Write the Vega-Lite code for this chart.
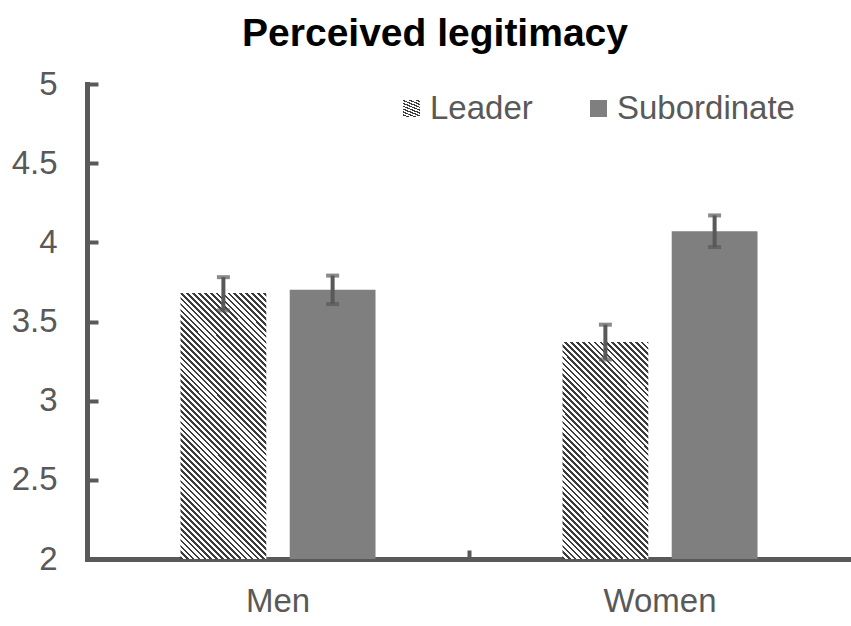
{
  "$schema": "https://vega.github.io/schema/vega-lite/v6.json",
  "width": 764,
  "height": 475,
  "autosize": {"type": "none"},
  "padding": {"left": 87, "top": 84, "right": 0, "bottom": 67},
  "background": "white",
  "config": {"view": {"stroke": null}},
  "title": {
    "text": "Perceived legitimacy",
    "font": "Liberation Sans",
    "fontSize": 39,
    "fontWeight": "bold",
    "color": "#000000",
    "anchor": "middle",
    "dx": -34,
    "offset": 14
  },
  "data": {
    "values": [
      {"Gender": "Men", "Role": "Leader", "Mean": 3.68, "Low": 3.57, "High": 3.78},
      {"Gender": "Men", "Role": "Subordinate", "Mean": 3.70, "Low": 3.61, "High": 3.79},
      {"Gender": "Women", "Role": "Leader", "Mean": 3.37, "Low": 3.26, "High": 3.48},
      {"Gender": "Women", "Role": "Subordinate", "Mean": 4.07, "Low": 3.97, "High": 4.17}
    ]
  },
  "encoding": {
    "x": {
      "field": "Gender",
      "type": "nominal",
      "scale": {"paddingInner": 0, "paddingOuter": 0},
      "axis": {
        "title": null,
        "labelAngle": 0,
        "labelFont": "Liberation Sans",
        "labelFontSize": 33,
        "labelColor": "#595959",
        "labelPadding": 35,
        "domainColor": "#595959",
        "domainWidth": 5,
        "domainCap": "square",
        "tickColor": "#595959",
        "tickWidth": 4,
        "tickSize": -9,
        "bandPosition": 0
      }
    },
    "xOffset": {
      "field": "Role",
      "type": "nominal",
      "scale": {"domain": ["Leader", "Subordinate"], "paddingInner": 0.2146, "paddingOuter": 0.856}
    }
  },
  "layer": [
    {
      "transform": [{"filter": "datum.Gender === 'Men' && datum.Role === 'Leader'"}],
      "mark": {
        "type": "bar",
        "fill": {
          "gradient": "linear",
          "x1": 0, "y1": 1, "x2": 0.6492, "y2": -1.0081,
          "stops": [
            {"offset":0,"color":"#3c3c3c"},{"offset":0.0045,"color":"#3c3c3c"},{"offset":0.0045,"color":"#fff"},{"offset":0.01,"color":"#fff"},
            {"offset":0.01,"color":"#3c3c3c"},{"offset":0.0145,"color":"#3c3c3c"},{"offset":0.0145,"color":"#fff"},{"offset":0.02,"color":"#fff"},
            {"offset":0.02,"color":"#3c3c3c"},{"offset":0.0245,"color":"#3c3c3c"},{"offset":0.0245,"color":"#fff"},{"offset":0.03,"color":"#fff"},
            {"offset":0.03,"color":"#3c3c3c"},{"offset":0.0345,"color":"#3c3c3c"},{"offset":0.0345,"color":"#fff"},{"offset":0.04,"color":"#fff"},
            {"offset":0.04,"color":"#3c3c3c"},{"offset":0.0445,"color":"#3c3c3c"},{"offset":0.0445,"color":"#fff"},{"offset":0.05,"color":"#fff"},
            {"offset":0.05,"color":"#3c3c3c"},{"offset":0.0545,"color":"#3c3c3c"},{"offset":0.0545,"color":"#fff"},{"offset":0.06,"color":"#fff"},
            {"offset":0.06,"color":"#3c3c3c"},{"offset":0.0645,"color":"#3c3c3c"},{"offset":0.0645,"color":"#fff"},{"offset":0.07,"color":"#fff"},
            {"offset":0.07,"color":"#3c3c3c"},{"offset":0.0745,"color":"#3c3c3c"},{"offset":0.0745,"color":"#fff"},{"offset":0.08,"color":"#fff"},
            {"offset":0.08,"color":"#3c3c3c"},{"offset":0.0845,"color":"#3c3c3c"},{"offset":0.0845,"color":"#fff"},{"offset":0.09,"color":"#fff"},
            {"offset":0.09,"color":"#3c3c3c"},{"offset":0.0945,"color":"#3c3c3c"},{"offset":0.0945,"color":"#fff"},{"offset":0.10,"color":"#fff"},
            {"offset":0.10,"color":"#3c3c3c"},{"offset":0.1045,"color":"#3c3c3c"},{"offset":0.1045,"color":"#fff"},{"offset":0.11,"color":"#fff"},
            {"offset":0.11,"color":"#3c3c3c"},{"offset":0.1145,"color":"#3c3c3c"},{"offset":0.1145,"color":"#fff"},{"offset":0.12,"color":"#fff"},
            {"offset":0.12,"color":"#3c3c3c"},{"offset":0.1245,"color":"#3c3c3c"},{"offset":0.1245,"color":"#fff"},{"offset":0.13,"color":"#fff"},
            {"offset":0.13,"color":"#3c3c3c"},{"offset":0.1345,"color":"#3c3c3c"},{"offset":0.1345,"color":"#fff"},{"offset":0.14,"color":"#fff"},
            {"offset":0.14,"color":"#3c3c3c"},{"offset":0.1445,"color":"#3c3c3c"},{"offset":0.1445,"color":"#fff"},{"offset":0.15,"color":"#fff"},
            {"offset":0.15,"color":"#3c3c3c"},{"offset":0.1545,"color":"#3c3c3c"},{"offset":0.1545,"color":"#fff"},{"offset":0.16,"color":"#fff"},
            {"offset":0.16,"color":"#3c3c3c"},{"offset":0.1645,"color":"#3c3c3c"},{"offset":0.1645,"color":"#fff"},{"offset":0.17,"color":"#fff"},
            {"offset":0.17,"color":"#3c3c3c"},{"offset":0.1745,"color":"#3c3c3c"},{"offset":0.1745,"color":"#fff"},{"offset":0.18,"color":"#fff"},
            {"offset":0.18,"color":"#3c3c3c"},{"offset":0.1845,"color":"#3c3c3c"},{"offset":0.1845,"color":"#fff"},{"offset":0.19,"color":"#fff"},
            {"offset":0.19,"color":"#3c3c3c"},{"offset":0.1945,"color":"#3c3c3c"},{"offset":0.1945,"color":"#fff"},{"offset":0.20,"color":"#fff"},
            {"offset":0.20,"color":"#3c3c3c"},{"offset":0.2045,"color":"#3c3c3c"},{"offset":0.2045,"color":"#fff"},{"offset":0.21,"color":"#fff"},
            {"offset":0.21,"color":"#3c3c3c"},{"offset":0.2145,"color":"#3c3c3c"},{"offset":0.2145,"color":"#fff"},{"offset":0.22,"color":"#fff"},
            {"offset":0.22,"color":"#3c3c3c"},{"offset":0.2245,"color":"#3c3c3c"},{"offset":0.2245,"color":"#fff"},{"offset":0.23,"color":"#fff"},
            {"offset":0.23,"color":"#3c3c3c"},{"offset":0.2345,"color":"#3c3c3c"},{"offset":0.2345,"color":"#fff"},{"offset":0.24,"color":"#fff"},
            {"offset":0.24,"color":"#3c3c3c"},{"offset":0.2445,"color":"#3c3c3c"},{"offset":0.2445,"color":"#fff"},{"offset":0.25,"color":"#fff"},
            {"offset":0.25,"color":"#3c3c3c"},{"offset":0.2545,"color":"#3c3c3c"},{"offset":0.2545,"color":"#fff"},{"offset":0.26,"color":"#fff"},
            {"offset":0.26,"color":"#3c3c3c"},{"offset":0.2645,"color":"#3c3c3c"},{"offset":0.2645,"color":"#fff"},{"offset":0.27,"color":"#fff"},
            {"offset":0.27,"color":"#3c3c3c"},{"offset":0.2745,"color":"#3c3c3c"},{"offset":0.2745,"color":"#fff"},{"offset":0.28,"color":"#fff"},
            {"offset":0.28,"color":"#3c3c3c"},{"offset":0.2845,"color":"#3c3c3c"},{"offset":0.2845,"color":"#fff"},{"offset":0.29,"color":"#fff"},
            {"offset":0.29,"color":"#3c3c3c"},{"offset":0.2945,"color":"#3c3c3c"},{"offset":0.2945,"color":"#fff"},{"offset":0.30,"color":"#fff"},
            {"offset":0.30,"color":"#3c3c3c"},{"offset":0.3045,"color":"#3c3c3c"},{"offset":0.3045,"color":"#fff"},{"offset":0.31,"color":"#fff"},
            {"offset":0.31,"color":"#3c3c3c"},{"offset":0.3145,"color":"#3c3c3c"},{"offset":0.3145,"color":"#fff"},{"offset":0.32,"color":"#fff"},
            {"offset":0.32,"color":"#3c3c3c"},{"offset":0.3245,"color":"#3c3c3c"},{"offset":0.3245,"color":"#fff"},{"offset":0.33,"color":"#fff"},
            {"offset":0.33,"color":"#3c3c3c"},{"offset":0.3345,"color":"#3c3c3c"},{"offset":0.3345,"color":"#fff"},{"offset":0.34,"color":"#fff"},
            {"offset":0.34,"color":"#3c3c3c"},{"offset":0.3445,"color":"#3c3c3c"},{"offset":0.3445,"color":"#fff"},{"offset":0.35,"color":"#fff"},
            {"offset":0.35,"color":"#3c3c3c"},{"offset":0.3545,"color":"#3c3c3c"},{"offset":0.3545,"color":"#fff"},{"offset":0.36,"color":"#fff"},
            {"offset":0.36,"color":"#3c3c3c"},{"offset":0.3645,"color":"#3c3c3c"},{"offset":0.3645,"color":"#fff"},{"offset":0.37,"color":"#fff"},
            {"offset":0.37,"color":"#3c3c3c"},{"offset":0.3745,"color":"#3c3c3c"},{"offset":0.3745,"color":"#fff"},{"offset":0.38,"color":"#fff"},
            {"offset":0.38,"color":"#3c3c3c"},{"offset":0.3845,"color":"#3c3c3c"},{"offset":0.3845,"color":"#fff"},{"offset":0.39,"color":"#fff"},
            {"offset":0.39,"color":"#3c3c3c"},{"offset":0.3945,"color":"#3c3c3c"},{"offset":0.3945,"color":"#fff"},{"offset":0.40,"color":"#fff"},
            {"offset":0.40,"color":"#3c3c3c"},{"offset":0.4045,"color":"#3c3c3c"},{"offset":0.4045,"color":"#fff"},{"offset":0.41,"color":"#fff"},
            {"offset":0.41,"color":"#3c3c3c"},{"offset":0.4145,"color":"#3c3c3c"},{"offset":0.4145,"color":"#fff"},{"offset":0.42,"color":"#fff"},
            {"offset":0.42,"color":"#3c3c3c"},{"offset":0.4245,"color":"#3c3c3c"},{"offset":0.4245,"color":"#fff"},{"offset":0.43,"color":"#fff"},
            {"offset":0.43,"color":"#3c3c3c"},{"offset":0.4345,"color":"#3c3c3c"},{"offset":0.4345,"color":"#fff"},{"offset":0.44,"color":"#fff"},
            {"offset":0.44,"color":"#3c3c3c"},{"offset":0.4445,"color":"#3c3c3c"},{"offset":0.4445,"color":"#fff"},{"offset":0.45,"color":"#fff"},
            {"offset":0.45,"color":"#3c3c3c"},{"offset":0.4545,"color":"#3c3c3c"},{"offset":0.4545,"color":"#fff"},{"offset":0.46,"color":"#fff"},
            {"offset":0.46,"color":"#3c3c3c"},{"offset":0.4645,"color":"#3c3c3c"},{"offset":0.4645,"color":"#fff"},{"offset":0.47,"color":"#fff"},
            {"offset":0.47,"color":"#3c3c3c"},{"offset":0.4745,"color":"#3c3c3c"},{"offset":0.4745,"color":"#fff"},{"offset":0.48,"color":"#fff"},
            {"offset":0.48,"color":"#3c3c3c"},{"offset":0.4845,"color":"#3c3c3c"},{"offset":0.4845,"color":"#fff"},{"offset":0.49,"color":"#fff"},
            {"offset":0.49,"color":"#3c3c3c"},{"offset":0.4945,"color":"#3c3c3c"},{"offset":0.4945,"color":"#fff"},{"offset":0.50,"color":"#fff"},
            {"offset":0.50,"color":"#3c3c3c"},{"offset":0.5045,"color":"#3c3c3c"},{"offset":0.5045,"color":"#fff"},{"offset":0.51,"color":"#fff"},
            {"offset":0.51,"color":"#3c3c3c"},{"offset":0.5145,"color":"#3c3c3c"},{"offset":0.5145,"color":"#fff"},{"offset":0.52,"color":"#fff"},
            {"offset":0.52,"color":"#3c3c3c"},{"offset":0.5245,"color":"#3c3c3c"},{"offset":0.5245,"color":"#fff"},{"offset":0.53,"color":"#fff"},
            {"offset":0.53,"color":"#3c3c3c"},{"offset":0.5345,"color":"#3c3c3c"},{"offset":0.5345,"color":"#fff"},{"offset":0.54,"color":"#fff"},
            {"offset":0.54,"color":"#3c3c3c"},{"offset":0.5445,"color":"#3c3c3c"},{"offset":0.5445,"color":"#fff"},{"offset":0.55,"color":"#fff"},
            {"offset":0.55,"color":"#3c3c3c"},{"offset":0.5545,"color":"#3c3c3c"},{"offset":0.5545,"color":"#fff"},{"offset":0.56,"color":"#fff"},
            {"offset":0.56,"color":"#3c3c3c"},{"offset":0.5645,"color":"#3c3c3c"},{"offset":0.5645,"color":"#fff"},{"offset":0.57,"color":"#fff"},
            {"offset":0.57,"color":"#3c3c3c"},{"offset":0.5745,"color":"#3c3c3c"},{"offset":0.5745,"color":"#fff"},{"offset":0.58,"color":"#fff"},
            {"offset":0.58,"color":"#3c3c3c"},{"offset":0.5845,"color":"#3c3c3c"},{"offset":0.5845,"color":"#fff"},{"offset":0.59,"color":"#fff"},
            {"offset":0.59,"color":"#3c3c3c"},{"offset":0.5945,"color":"#3c3c3c"},{"offset":0.5945,"color":"#fff"},{"offset":0.60,"color":"#fff"}
          ]
        }
      },
      "encoding": {
        "y": {"field": "Mean", "type": "quantitative", "scale": {"domain": [2, 5], "zero": false, "nice": false}},
        "y2": {"datum": 2},
        "opacity": {
          "field": "Role",
          "type": "nominal",
          "scale": {"domain": ["Leader"], "range": [1]},
          "legend": {
            "title": null,
            "orient": "none",
            "legendX": 308,
            "legendY": 8,
            "symbolType": "square",
            "symbolSize": 289,
            "symbolStrokeWidth": 0,
            "labelFont": "Liberation Sans",
            "labelFontSize": 33,
            "labelColor": "#595959",
            "labelOffset": 2,
            "labelLimit": 400,
            "padding": 0,
            "encode": {
              "symbols": {
                "fill": {
                  "value": {
                    "gradient": "linear",
                    "x1": 0, "y1": 1, "x2": 17.35, "y2": -16.35,
                    "stops": [
                      {"offset":0,"color":"#3c3c3c"},{"offset":0.0045,"color":"#3c3c3c"},{"offset":0.0045,"color":"#fff"},{"offset":0.01,"color":"#fff"},
                      {"offset":0.01,"color":"#3c3c3c"},{"offset":0.0145,"color":"#3c3c3c"},{"offset":0.0145,"color":"#fff"},{"offset":0.02,"color":"#fff"},
                      {"offset":0.02,"color":"#3c3c3c"},{"offset":0.0245,"color":"#3c3c3c"},{"offset":0.0245,"color":"#fff"},{"offset":0.03,"color":"#fff"},
                      {"offset":0.03,"color":"#3c3c3c"},{"offset":0.0345,"color":"#3c3c3c"},{"offset":0.0345,"color":"#fff"},{"offset":0.04,"color":"#fff"},
                      {"offset":0.04,"color":"#3c3c3c"},{"offset":0.0445,"color":"#3c3c3c"},{"offset":0.0445,"color":"#fff"},{"offset":0.05,"color":"#fff"},
                      {"offset":0.05,"color":"#3c3c3c"},{"offset":0.0545,"color":"#3c3c3c"},{"offset":0.0545,"color":"#fff"},{"offset":0.06,"color":"#fff"}
                    ]
                  }
                },
                "opacity": {"value": 1}
              }
            }
          }
        }
      }
    },
    {
      "transform": [{"filter": "datum.Gender === 'Women' && datum.Role === 'Leader'"}],
      "mark": {
        "type": "bar",
        "fill": {
          "gradient": "linear",
          "x1": 0, "y1": 1, "x2": 0.932, "y2": -1.3506,
          "stops": [
            {"offset":0,"color":"#3c3c3c"},{"offset":0.0045,"color":"#3c3c3c"},{"offset":0.0045,"color":"#fff"},{"offset":0.01,"color":"#fff"},
            {"offset":0.01,"color":"#3c3c3c"},{"offset":0.0145,"color":"#3c3c3c"},{"offset":0.0145,"color":"#fff"},{"offset":0.02,"color":"#fff"},
            {"offset":0.02,"color":"#3c3c3c"},{"offset":0.0245,"color":"#3c3c3c"},{"offset":0.0245,"color":"#fff"},{"offset":0.03,"color":"#fff"},
            {"offset":0.03,"color":"#3c3c3c"},{"offset":0.0345,"color":"#3c3c3c"},{"offset":0.0345,"color":"#fff"},{"offset":0.04,"color":"#fff"},
            {"offset":0.04,"color":"#3c3c3c"},{"offset":0.0445,"color":"#3c3c3c"},{"offset":0.0445,"color":"#fff"},{"offset":0.05,"color":"#fff"},
            {"offset":0.05,"color":"#3c3c3c"},{"offset":0.0545,"color":"#3c3c3c"},{"offset":0.0545,"color":"#fff"},{"offset":0.06,"color":"#fff"},
            {"offset":0.06,"color":"#3c3c3c"},{"offset":0.0645,"color":"#3c3c3c"},{"offset":0.0645,"color":"#fff"},{"offset":0.07,"color":"#fff"},
            {"offset":0.07,"color":"#3c3c3c"},{"offset":0.0745,"color":"#3c3c3c"},{"offset":0.0745,"color":"#fff"},{"offset":0.08,"color":"#fff"},
            {"offset":0.08,"color":"#3c3c3c"},{"offset":0.0845,"color":"#3c3c3c"},{"offset":0.0845,"color":"#fff"},{"offset":0.09,"color":"#fff"},
            {"offset":0.09,"color":"#3c3c3c"},{"offset":0.0945,"color":"#3c3c3c"},{"offset":0.0945,"color":"#fff"},{"offset":0.10,"color":"#fff"},
            {"offset":0.10,"color":"#3c3c3c"},{"offset":0.1045,"color":"#3c3c3c"},{"offset":0.1045,"color":"#fff"},{"offset":0.11,"color":"#fff"},
            {"offset":0.11,"color":"#3c3c3c"},{"offset":0.1145,"color":"#3c3c3c"},{"offset":0.1145,"color":"#fff"},{"offset":0.12,"color":"#fff"},
            {"offset":0.12,"color":"#3c3c3c"},{"offset":0.1245,"color":"#3c3c3c"},{"offset":0.1245,"color":"#fff"},{"offset":0.13,"color":"#fff"},
            {"offset":0.13,"color":"#3c3c3c"},{"offset":0.1345,"color":"#3c3c3c"},{"offset":0.1345,"color":"#fff"},{"offset":0.14,"color":"#fff"},
            {"offset":0.14,"color":"#3c3c3c"},{"offset":0.1445,"color":"#3c3c3c"},{"offset":0.1445,"color":"#fff"},{"offset":0.15,"color":"#fff"},
            {"offset":0.15,"color":"#3c3c3c"},{"offset":0.1545,"color":"#3c3c3c"},{"offset":0.1545,"color":"#fff"},{"offset":0.16,"color":"#fff"},
            {"offset":0.16,"color":"#3c3c3c"},{"offset":0.1645,"color":"#3c3c3c"},{"offset":0.1645,"color":"#fff"},{"offset":0.17,"color":"#fff"},
            {"offset":0.17,"color":"#3c3c3c"},{"offset":0.1745,"color":"#3c3c3c"},{"offset":0.1745,"color":"#fff"},{"offset":0.18,"color":"#fff"},
            {"offset":0.18,"color":"#3c3c3c"},{"offset":0.1845,"color":"#3c3c3c"},{"offset":0.1845,"color":"#fff"},{"offset":0.19,"color":"#fff"},
            {"offset":0.19,"color":"#3c3c3c"},{"offset":0.1945,"color":"#3c3c3c"},{"offset":0.1945,"color":"#fff"},{"offset":0.20,"color":"#fff"},
            {"offset":0.20,"color":"#3c3c3c"},{"offset":0.2045,"color":"#3c3c3c"},{"offset":0.2045,"color":"#fff"},{"offset":0.21,"color":"#fff"},
            {"offset":0.21,"color":"#3c3c3c"},{"offset":0.2145,"color":"#3c3c3c"},{"offset":0.2145,"color":"#fff"},{"offset":0.22,"color":"#fff"},
            {"offset":0.22,"color":"#3c3c3c"},{"offset":0.2245,"color":"#3c3c3c"},{"offset":0.2245,"color":"#fff"},{"offset":0.23,"color":"#fff"},
            {"offset":0.23,"color":"#3c3c3c"},{"offset":0.2345,"color":"#3c3c3c"},{"offset":0.2345,"color":"#fff"},{"offset":0.24,"color":"#fff"},
            {"offset":0.24,"color":"#3c3c3c"},{"offset":0.2445,"color":"#3c3c3c"},{"offset":0.2445,"color":"#fff"},{"offset":0.25,"color":"#fff"},
            {"offset":0.25,"color":"#3c3c3c"},{"offset":0.2545,"color":"#3c3c3c"},{"offset":0.2545,"color":"#fff"},{"offset":0.26,"color":"#fff"},
            {"offset":0.26,"color":"#3c3c3c"},{"offset":0.2645,"color":"#3c3c3c"},{"offset":0.2645,"color":"#fff"},{"offset":0.27,"color":"#fff"},
            {"offset":0.27,"color":"#3c3c3c"},{"offset":0.2745,"color":"#3c3c3c"},{"offset":0.2745,"color":"#fff"},{"offset":0.28,"color":"#fff"},
            {"offset":0.28,"color":"#3c3c3c"},{"offset":0.2845,"color":"#3c3c3c"},{"offset":0.2845,"color":"#fff"},{"offset":0.29,"color":"#fff"},
            {"offset":0.29,"color":"#3c3c3c"},{"offset":0.2945,"color":"#3c3c3c"},{"offset":0.2945,"color":"#fff"},{"offset":0.30,"color":"#fff"},
            {"offset":0.30,"color":"#3c3c3c"},{"offset":0.3045,"color":"#3c3c3c"},{"offset":0.3045,"color":"#fff"},{"offset":0.31,"color":"#fff"},
            {"offset":0.31,"color":"#3c3c3c"},{"offset":0.3145,"color":"#3c3c3c"},{"offset":0.3145,"color":"#fff"},{"offset":0.32,"color":"#fff"},
            {"offset":0.32,"color":"#3c3c3c"},{"offset":0.3245,"color":"#3c3c3c"},{"offset":0.3245,"color":"#fff"},{"offset":0.33,"color":"#fff"},
            {"offset":0.33,"color":"#3c3c3c"},{"offset":0.3345,"color":"#3c3c3c"},{"offset":0.3345,"color":"#fff"},{"offset":0.34,"color":"#fff"},
            {"offset":0.34,"color":"#3c3c3c"},{"offset":0.3445,"color":"#3c3c3c"},{"offset":0.3445,"color":"#fff"},{"offset":0.35,"color":"#fff"},
            {"offset":0.35,"color":"#3c3c3c"},{"offset":0.3545,"color":"#3c3c3c"},{"offset":0.3545,"color":"#fff"},{"offset":0.36,"color":"#fff"},
            {"offset":0.36,"color":"#3c3c3c"},{"offset":0.3645,"color":"#3c3c3c"},{"offset":0.3645,"color":"#fff"},{"offset":0.37,"color":"#fff"},
            {"offset":0.37,"color":"#3c3c3c"},{"offset":0.3745,"color":"#3c3c3c"},{"offset":0.3745,"color":"#fff"},{"offset":0.38,"color":"#fff"},
            {"offset":0.38,"color":"#3c3c3c"},{"offset":0.3845,"color":"#3c3c3c"},{"offset":0.3845,"color":"#fff"},{"offset":0.39,"color":"#fff"},
            {"offset":0.39,"color":"#3c3c3c"},{"offset":0.3945,"color":"#3c3c3c"},{"offset":0.3945,"color":"#fff"},{"offset":0.40,"color":"#fff"},
            {"offset":0.40,"color":"#3c3c3c"},{"offset":0.4045,"color":"#3c3c3c"},{"offset":0.4045,"color":"#fff"},{"offset":0.41,"color":"#fff"},
            {"offset":0.41,"color":"#3c3c3c"},{"offset":0.4145,"color":"#3c3c3c"},{"offset":0.4145,"color":"#fff"},{"offset":0.42,"color":"#fff"},
            {"offset":0.42,"color":"#3c3c3c"},{"offset":0.4245,"color":"#3c3c3c"},{"offset":0.4245,"color":"#fff"},{"offset":0.43,"color":"#fff"},
            {"offset":0.43,"color":"#3c3c3c"},{"offset":0.4345,"color":"#3c3c3c"},{"offset":0.4345,"color":"#fff"},{"offset":0.44,"color":"#fff"},
            {"offset":0.44,"color":"#3c3c3c"},{"offset":0.4445,"color":"#3c3c3c"},{"offset":0.4445,"color":"#fff"},{"offset":0.45,"color":"#fff"},
            {"offset":0.45,"color":"#3c3c3c"},{"offset":0.4545,"color":"#3c3c3c"},{"offset":0.4545,"color":"#fff"},{"offset":0.46,"color":"#fff"},
            {"offset":0.46,"color":"#3c3c3c"},{"offset":0.4645,"color":"#3c3c3c"},{"offset":0.4645,"color":"#fff"},{"offset":0.47,"color":"#fff"},
            {"offset":0.47,"color":"#3c3c3c"},{"offset":0.4745,"color":"#3c3c3c"},{"offset":0.4745,"color":"#fff"},{"offset":0.48,"color":"#fff"},
            {"offset":0.48,"color":"#3c3c3c"},{"offset":0.4845,"color":"#3c3c3c"},{"offset":0.4845,"color":"#fff"},{"offset":0.49,"color":"#fff"},
            {"offset":0.49,"color":"#3c3c3c"},{"offset":0.4945,"color":"#3c3c3c"},{"offset":0.4945,"color":"#fff"},{"offset":0.50,"color":"#fff"},
            {"offset":0.50,"color":"#3c3c3c"},{"offset":0.5045,"color":"#3c3c3c"},{"offset":0.5045,"color":"#fff"},{"offset":0.51,"color":"#fff"},
            {"offset":0.51,"color":"#3c3c3c"},{"offset":0.5145,"color":"#3c3c3c"},{"offset":0.5145,"color":"#fff"},{"offset":0.52,"color":"#fff"}
          ]
        }
      },
      "encoding": {
        "y": {"field": "Mean", "type": "quantitative", "scale": {"domain": [2, 5], "zero": false, "nice": false}},
        "y2": {"datum": 2}
      }
    },
    {
      "transform": [{"filter": "datum.Role === 'Subordinate'"}],
      "mark": {"type": "bar"},
      "encoding": {
        "y": {
          "field": "Mean",
          "type": "quantitative",
          "scale": {"domain": [2, 5], "zero": false, "nice": false},
          "axis": {
            "title": null,
            "values": [2, 2.5, 3, 3.5, 4, 4.5, 5],
            "format": "~g",
            "grid": false,
            "labelFont": "Liberation Sans",
            "labelFontSize": 33,
            "labelColor": "#595959",
            "labelPadding": 41,
            "domainColor": "#595959",
            "domainWidth": 5,
            "domainCap": "square",
            "tickColor": "#595959",
            "tickWidth": 4,
            "tickSize": -11
          }
        },
        "y2": {"datum": 2},
        "color": {
          "field": "Role",
          "type": "nominal",
          "scale": {"domain": ["Subordinate"], "range": ["#7f7f7f"]},
          "legend": {
            "title": null,
            "orient": "none",
            "legendX": 495,
            "legendY": 8,
            "symbolType": "square",
            "symbolSize": 289,
            "symbolStrokeWidth": 0,
            "labelFont": "Liberation Sans",
            "labelFontSize": 33,
            "labelColor": "#595959",
            "labelOffset": 2,
            "labelLimit": 400,
            "padding": 0
          }
        }
      }
    },
    {
      "mark": {"type": "rule", "color": "#595959", "strokeWidth": 4},
      "encoding": {
        "y": {"field": "Low", "type": "quantitative"},
        "y2": {"field": "High"}
      }
    },
    {
      "mark": {"type": "tick", "color": "#595959", "size": 13, "thickness": 4, "orient": "horizontal"},
      "encoding": {
        "y": {"field": "Low", "type": "quantitative"}
      }
    },
    {
      "mark": {"type": "tick", "color": "#595959", "size": 13, "thickness": 4, "orient": "horizontal"},
      "encoding": {
        "y": {"field": "High", "type": "quantitative"}
      }
    }
  ]
}
